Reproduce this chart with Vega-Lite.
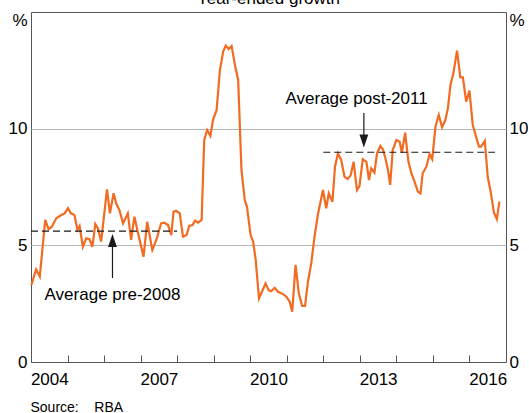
{
  "$schema": "https://vega.github.io/schema/vega-lite/v6.json",
  "autosize": {"type": "none"},
  "padding": {"left": 31, "top": 12, "right": 22, "bottom": 51},
  "width": 475,
  "height": 350,
  "title": {"text": "Year-ended growth", "fontSize": 17, "fontWeight": "normal", "color": "#000", "baseline": "alphabetic", "offset": -10, "anchor": "middle"},
  "config": {
    "font": "Liberation Sans",
    "view": {"stroke": "#555", "strokeWidth": 1}
  },
  "datasets": {
    "growth": [
      {"year": 2004.01, "value": 3.30}, {"year": 2004.14, "value": 3.97}, {"year": 2004.24, "value": 3.66},
      {"year": 2004.39, "value": 6.09}, {"year": 2004.48, "value": 5.69}, {"year": 2004.57, "value": 5.80},
      {"year": 2004.69, "value": 6.16}, {"year": 2004.83, "value": 6.30}, {"year": 2004.92, "value": 6.37},
      {"year": 2005.01, "value": 6.59}, {"year": 2005.09, "value": 6.37}, {"year": 2005.19, "value": 6.30},
      {"year": 2005.27, "value": 5.66}, {"year": 2005.33, "value": 5.83}, {"year": 2005.42, "value": 4.94},
      {"year": 2005.51, "value": 5.30}, {"year": 2005.60, "value": 5.26}, {"year": 2005.68, "value": 4.94},
      {"year": 2005.76, "value": 5.91}, {"year": 2005.83, "value": 5.73}, {"year": 2005.92, "value": 5.16},
      {"year": 2006.08, "value": 7.40}, {"year": 2006.16, "value": 6.37}, {"year": 2006.26, "value": 7.23},
      {"year": 2006.33, "value": 6.80}, {"year": 2006.42, "value": 6.51}, {"year": 2006.52, "value": 5.94},
      {"year": 2006.65, "value": 6.37}, {"year": 2006.74, "value": 5.23}, {"year": 2006.83, "value": 6.23},
      {"year": 2006.93, "value": 5.52}, {"year": 2007.08, "value": 4.51}, {"year": 2007.18, "value": 6.01},
      {"year": 2007.32, "value": 4.80}, {"year": 2007.43, "value": 5.23}, {"year": 2007.56, "value": 5.94},
      {"year": 2007.65, "value": 5.97}, {"year": 2007.75, "value": 5.87}, {"year": 2007.84, "value": 5.44},
      {"year": 2007.90, "value": 6.44}, {"year": 2007.97, "value": 6.48}, {"year": 2008.07, "value": 6.37},
      {"year": 2008.16, "value": 5.37}, {"year": 2008.26, "value": 5.44}, {"year": 2008.33, "value": 5.83},
      {"year": 2008.42, "value": 5.87}, {"year": 2008.49, "value": 6.06}, {"year": 2008.57, "value": 5.97},
      {"year": 2008.67, "value": 6.09}, {"year": 2008.74, "value": 9.51}, {"year": 2008.82, "value": 9.94},
      {"year": 2008.91, "value": 9.69}, {"year": 2008.98, "value": 10.37}, {"year": 2009.08, "value": 10.80},
      {"year": 2009.17, "value": 12.51}, {"year": 2009.26, "value": 13.30}, {"year": 2009.33, "value": 13.56},
      {"year": 2009.41, "value": 13.41}, {"year": 2009.49, "value": 13.54}, {"year": 2009.59, "value": 12.66},
      {"year": 2009.67, "value": 12.09}, {"year": 2009.76, "value": 8.23}, {"year": 2009.85, "value": 6.94},
      {"year": 2009.91, "value": 6.66}, {"year": 2010.01, "value": 5.44}, {"year": 2010.08, "value": 5.16},
      {"year": 2010.15, "value": 4.37}, {"year": 2010.24, "value": 2.73}, {"year": 2010.32, "value": 3.01},
      {"year": 2010.42, "value": 3.37}, {"year": 2010.51, "value": 3.06}, {"year": 2010.58, "value": 3.04},
      {"year": 2010.67, "value": 3.18}, {"year": 2010.76, "value": 3.01}, {"year": 2010.90, "value": 2.91},
      {"year": 2010.99, "value": 2.80}, {"year": 2011.08, "value": 2.58}, {"year": 2011.15, "value": 2.16},
      {"year": 2011.24, "value": 4.16}, {"year": 2011.33, "value": 2.94}, {"year": 2011.42, "value": 2.40},
      {"year": 2011.50, "value": 2.40}, {"year": 2011.58, "value": 3.44}, {"year": 2011.67, "value": 4.23},
      {"year": 2011.76, "value": 5.37}, {"year": 2011.85, "value": 6.30}, {"year": 2011.99, "value": 7.37},
      {"year": 2012.08, "value": 6.59}, {"year": 2012.15, "value": 7.23}, {"year": 2012.25, "value": 6.87},
      {"year": 2012.32, "value": 8.37}, {"year": 2012.40, "value": 8.94}, {"year": 2012.49, "value": 8.66},
      {"year": 2012.58, "value": 7.94}, {"year": 2012.67, "value": 7.84}, {"year": 2012.75, "value": 8.01},
      {"year": 2012.83, "value": 8.58}, {"year": 2012.92, "value": 7.37}, {"year": 2012.99, "value": 7.54},
      {"year": 2013.08, "value": 8.69}, {"year": 2013.18, "value": 8.58}, {"year": 2013.25, "value": 7.80},
      {"year": 2013.31, "value": 8.30}, {"year": 2013.40, "value": 8.11}, {"year": 2013.47, "value": 8.94},
      {"year": 2013.56, "value": 9.26}, {"year": 2013.63, "value": 9.12}, {"year": 2013.70, "value": 8.73},
      {"year": 2013.77, "value": 8.23}, {"year": 2013.83, "value": 7.59}, {"year": 2013.90, "value": 9.09},
      {"year": 2014.00, "value": 9.51}, {"year": 2014.09, "value": 9.44}, {"year": 2014.15, "value": 8.97},
      {"year": 2014.24, "value": 9.83}, {"year": 2014.33, "value": 8.58}, {"year": 2014.41, "value": 8.09},
      {"year": 2014.48, "value": 7.80}, {"year": 2014.59, "value": 7.30}, {"year": 2014.66, "value": 7.23},
      {"year": 2014.72, "value": 8.09}, {"year": 2014.82, "value": 8.37}, {"year": 2014.91, "value": 8.91},
      {"year": 2014.98, "value": 8.69}, {"year": 2015.07, "value": 10.08}, {"year": 2015.16, "value": 10.59},
      {"year": 2015.25, "value": 10.06}, {"year": 2015.34, "value": 10.37}, {"year": 2015.41, "value": 10.87},
      {"year": 2015.48, "value": 11.87}, {"year": 2015.56, "value": 12.37}, {"year": 2015.66, "value": 13.34},
      {"year": 2015.75, "value": 12.20}, {"year": 2015.82, "value": 12.20}, {"year": 2015.91, "value": 11.16},
      {"year": 2016.00, "value": 11.63}, {"year": 2016.09, "value": 10.16}, {"year": 2016.18, "value": 9.66},
      {"year": 2016.26, "value": 9.23}, {"year": 2016.32, "value": 9.23}, {"year": 2016.42, "value": 9.48},
      {"year": 2016.50, "value": 7.94}, {"year": 2016.58, "value": 7.30}, {"year": 2016.67, "value": 6.40},
      {"year": 2016.75, "value": 6.12}, {"year": 2016.82, "value": 6.87}
    ],
    "averages": [
      {"year": 2004.0, "year2": 2008.0, "value": 5.61},
      {"year": 2012.0, "year2": 2016.7, "value": 8.99}
    ],
    "arrows": [
      {"year": 2006.23, "tail": 3.60, "head": 5.21, "dir": "up"},
      {"year": 2013.11, "tail": 10.67, "head": 9.47, "dir": "down"}
    ],
    "labels": [
      {"year": 2006.23, "value": 2.66, "label": "Average pre-2008"},
      {"year": 2012.91, "value": 11.04, "label": "Average post-2011"}
    ]
  },
  "encoding": {
    "x": {
      "field": "year", "type": "quantitative",
      "scale": {"domain": [2004, 2017], "nice": false, "zero": false},
      "axis": {
        "values": [2004, 2005, 2006, 2007, 2008, 2009, 2010, 2011, 2012, 2013, 2014, 2015, 2016],
        "labelExpr": "(datum.value - 2004) % 3 == 0 ? '' + datum.value : ''",
        "labelOffset": 18.3,
        "labelFlush": false,
        "labelOverlap": false,
        "labelFontSize": 17,
        "labelColor": "#000",
        "labelPadding": 16,
        "labelBaseline": "top",
        "tickSize": -7,
        "tickColor": "#555",
        "tickWidth": 1,
        "domain": false,
        "grid": false,
        "title": "Source:\u00a0\u00a0\u00a0\u00a0RBA",
        "titleFontSize": 14,
        "titleFontWeight": "normal",
        "titleColor": "#000",
        "titleAnchor": "start",
        "titleAlign": "left",
        "titleBaseline": "alphabetic",
        "titleX": -1,
        "titleY": 49
      }
    }
  },
  "layer": [
    {
      "data": {"name": "growth"},
      "mark": {"type": "line", "color": "#f26b21", "strokeWidth": 2.2},
      "encoding": {
        "y": {
          "field": "value", "type": "quantitative",
          "scale": {"domain": [0, 15], "nice": false, "zero": true},
          "axis": {
            "orient": "left",
            "values": [0, 5, 10, 15],
            "labelExpr": "datum.value == 15 ? '%' : datum.label",
            "labelBaseline": {"condition": {"test": "datum.value == 15", "value": "top"}, "value": "middle"},
            "labelFontSize": 17,
            "labelColor": "#000",
            "labelPadding": 4,
            "ticks": false,
            "domain": false,
            "grid": true,
            "gridColor": "#b5b5b5",
            "gridWidth": 1,
            "gridOpacity": {"condition": {"test": "datum.value == 5 || datum.value == 10", "value": 1}, "value": 0},
            "title": null
          }
        }
      }
    },
    {
      "data": {"name": "averages"},
      "mark": {"type": "rule", "color": "#1a1a1a", "strokeWidth": 1.2, "strokeDash": [7, 4]},
      "encoding": {
        "x2": {"field": "year2"},
        "y": {
          "field": "value", "type": "quantitative",
          "axis": {
            "orient": "right",
            "values": [0, 5, 10, 15],
            "labelExpr": "datum.value == 15 ? '%' : datum.label",
            "labelBaseline": {"condition": {"test": "datum.value == 15", "value": "top"}, "value": "middle"},
            "labelFontSize": 17,
            "labelColor": "#000",
            "labelPadding": 3,
            "ticks": false,
            "domain": false,
            "grid": false,
            "title": null
          }
        }
      }
    },
    {
      "data": {"name": "arrows"},
      "mark": {"type": "rule", "color": "#1a1a1a", "strokeWidth": 1.2},
      "encoding": {
        "y": {"field": "tail", "type": "quantitative", "axis": null},
        "y2": {"field": "head"}
      }
    },
    {
      "data": {"name": "arrows"},
      "mark": {"type": "point", "filled": true, "color": "#1a1a1a", "opacity": 1, "size": 169, "strokeWidth": 0},
      "encoding": {
        "y": {"field": "head", "type": "quantitative", "axis": null},
        "shape": {
          "field": "dir", "type": "nominal",
          "scale": {"domain": ["up", "down"], "range": ["M0,-1L0.68,1L-0.68,1Z", "M0,1L0.68,-1L-0.68,-1Z"]},
          "legend": null
        }
      }
    },
    {
      "data": {"name": "labels"},
      "mark": {"type": "text", "fontSize": 17, "color": "#000", "align": "center", "baseline": "alphabetic"},
      "encoding": {
        "y": {"field": "value", "type": "quantitative", "axis": null},
        "text": {"field": "label"}
      }
    }
  ],
  "resolve": {"axis": {"y": "independent"}}
}
